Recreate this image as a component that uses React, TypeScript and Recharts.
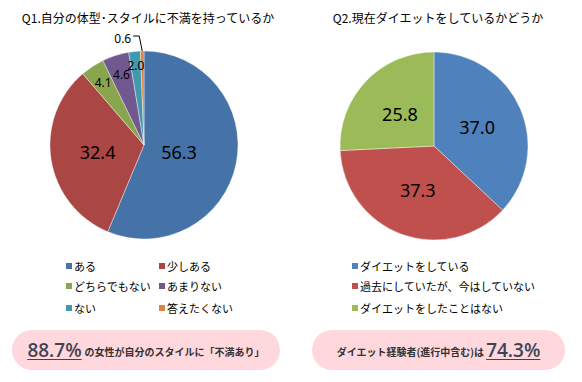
import React from 'react';
import { PieChart, Pie, Cell } from 'recharts';

const q1Title = 'Q1.自分の体型･スタイルに不満を持っているか';
const q1Categories = ['ある', '少しある', 'どちらでもない', 'あまりない', 'ない', '答えたくない'];
const q1Values = [56.3, 32.4, 4.1, 4.6, 2.0, 0.6];
const q1Colors = ['#4572A7', '#AA4643', '#89A54E', '#71588F', '#4198AF', '#DB843D'];

const q2Title = 'Q2.現在ダイエットをしているかどうか';
const q2Categories = ['ダイエットをしている', '過去にしていたが、今はしていない', 'ダイエットをしたことはない'];
const q2Values = [37.0, 37.3, 25.8];
const q2Colors = ['#4F81BD', '#C0504D', '#9BBB59'];

const q1Summary = { value: '88.7%', text: 'の女性が自分のスタイルに「不満あり」' };
const q2Summary = { value: '74.3%', text: 'ダイエット経験者(進行中含む)は' };

const q1Data = q1Categories.map((name, i) => ({ name, value: q1Values[i] }));
const q2Data = q2Categories.map((name, i) => ({ name, value: q2Values[i] }));

const RADIAN = Math.PI / 180;
const labelFont = '"Noto Sans", "DejaVu Sans", sans-serif';
const jpFont = '"Noto Sans CJK JP", "Noto Sans", sans-serif';

const renderLabel = (props: any) => {
  const { cx, cy, midAngle, outerRadius, value } = props;
  const cos = Math.cos(-midAngle * RADIAN);
  const sin = Math.sin(-midAngle * RADIAN);
  if (value < 1) {
    const ex = cx + outerRadius * cos;
    const ey = cy + outerRadius * sin;
    const points = `${ex},${ey} ${ex - 3},${ey - 15} ${ex - 9},${ey - 15}`;
    return (
      <g>
        <polyline points={points} fill="none" stroke="#000" strokeWidth={1} />
        <text x={ex - 11} y={ey - 13} textAnchor="end" dominantBaseline="central" fontSize={12} fontFamily={labelFont} fill="#000">
          {value.toFixed(1)}
        </text>
      </g>
    );
  }
  const factor = value > 50 ? 0.38 : value > 10 ? 0.5 : value > 3 ? 0.79 : 0.85;
  const r = outerRadius * factor;
  const x = cx + r * cos;
  const y = cy + r * sin;
  return (
    <text x={x} y={y} textAnchor="middle" dominantBaseline="central" fontSize={value > 10 ? 18 : 12} fontFamily={labelFont} fill="#000">
      {value.toFixed(1)}
    </text>
  );
};

const legendItem = (name: string, color: string, left: number, top: number) => (
  <div key={name} style={{ position: 'absolute', left, top, display: 'flex', alignItems: 'center', fontFamily: jpFont, fontSize: 11, color: '#000', whiteSpace: 'nowrap' }}>
    <span style={{ display: 'inline-block', width: 6, height: 6, background: color, marginRight: 2 }} />
    {name}
  </div>
);

const rowTops = [258, 278, 300];

export default function App() {
  return (
    <div style={{ position: 'absolute', left: 0, top: 0, width: 582, height: 382, background: '#fff', overflow: 'hidden' }}>
      <div style={{ position: 'absolute', left: 0, top: 9, width: 296, textAlign: 'center', fontFamily: jpFont, fontSize: 12, color: '#000' }}>{q1Title}</div>
      <div style={{ position: 'absolute', left: 290, top: 9, width: 296, textAlign: 'center', fontFamily: jpFont, fontSize: 12, color: '#000' }}>{q2Title}</div>
      <div style={{ position: 'absolute', left: 0, top: 0 }}>
        <PieChart width={582} height={382} margin={{ top: 0, right: 0, bottom: 0, left: 0 }}>
          <Pie
            data={q1Data}
            dataKey="value"
            cx={144}
            cy={145}
            outerRadius={94}
            startAngle={90}
            endAngle={-270}
            stroke="#ffffff"
            strokeWidth={0.4}
            label={renderLabel}
            labelLine={false}
            isAnimationActive={false}
          >
            {q1Data.map((d, i) => (
              <Cell key={d.name} fill={q1Colors[i]} />
            ))}
          </Pie>
          <Pie
            data={q2Data}
            dataKey="value"
            cx={434}
            cy={146}
            outerRadius={94}
            startAngle={90}
            endAngle={-270}
            stroke="#ffffff"
            strokeWidth={0.4}
            label={renderLabel}
            labelLine={false}
            isAnimationActive={false}
          >
            {q2Data.map((d, i) => (
              <Cell key={d.name} fill={q2Colors[i]} />
            ))}
          </Pie>
        </PieChart>
      </div>
      {q1Categories.map((name, i) => legendItem(name, q1Colors[i], i % 2 === 0 ? 66 : 159, rowTops[Math.floor(i / 2)]))}
      {q2Categories.map((name, i) => legendItem(name, q2Colors[i], 352, rowTops[i]))}
      <div style={{ position: 'absolute', left: 12, top: 330, width: 268, height: 40, borderRadius: 20, background: '#FFD8DE', display: 'flex', alignItems: 'center', justifyContent: 'center' }}>
        <span style={{ fontFamily: '"Open Sans", sans-serif', fontSize: 19, fontWeight: 600, color: '#3d4354', textDecoration: 'underline', textUnderlineOffset: 2, marginRight: 3 }}>{q1Summary.value}</span>
        <span style={{ fontFamily: jpFont, fontSize: 10, fontWeight: 'bold', color: '#333', marginTop: 3 }}>{q1Summary.text}</span>
      </div>
      <div style={{ position: 'absolute', left: 312, top: 330, width: 253, height: 40, borderRadius: 20, background: '#FFD8DE', display: 'flex', alignItems: 'center', justifyContent: 'center' }}>
        <span style={{ fontFamily: jpFont, fontSize: 10, fontWeight: 'bold', color: '#333', marginTop: 3, marginRight: 2 }}>{q2Summary.text}</span>
        <span style={{ fontFamily: '"Open Sans", sans-serif', fontSize: 19, fontWeight: 600, color: '#3d4354', textDecoration: 'underline', textUnderlineOffset: 2 }}>{q2Summary.value}</span>
      </div>
    </div>
  );
}
